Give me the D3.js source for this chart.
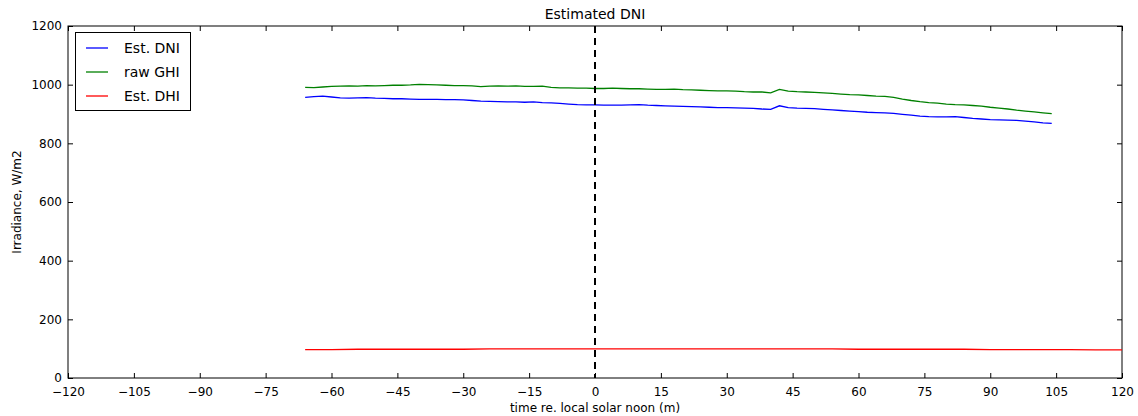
<!DOCTYPE html>
<html>
<head>
<meta charset="utf-8">
<script src="https://cdn.jsdelivr.net/npm/d3@7"></script>
<style>
  html, body { margin: 0; padding: 0; background: #fff; }
  svg { display: block; }
  text { font-family: "DejaVu Sans", sans-serif; fill: #000; }
</style>
</head>
<body>
<svg id="chart" width="1138" height="416"></svg>
<script>
// ---- data ----
const chartTitle = "Estimated DNI";
const xLabel = "time re. local solar noon (m)";
const yLabel = "Irradiance, W/m2";
const xTicks = [-120, -105, -90, -75, -60, -45, -30, -15, 0, 15, 30, 45, 60, 75, 90, 105, 120];
const yTicks = [0, 200, 400, 600, 800, 1000, 1200];
const seriesNames = ["Est. DNI", "raw GHI", "Est. DHI"];

const minutes = [-66,-64,-62,-60,-58,-56,-54,-52,-50,-48,-46,-44,-42,-40,-38,-36,-34,-32,-30,-28,-26,-24,-22,-20,-18,-16,-14,-12,-10,-8,-6,-4,-2,0,2,4,6,8,10,12,14,16,18,20,22,24,26,28,30,32,34,36,38,40,42,44,46,48,50,52,54,56,58,60,62,64,66,68,70,72,74,76,78,80,82,84,86,88,90,92,94,96,98,100,102,104];

const estDNI = [957,959,961,958,955,954,955,956,954,953,952,952,951,950,950,950,949,949,948,946,944,943,942,941,941,940,941,939,938,936,934,932,931,931,930,930,930,931,932,930,929,928,927,926,925,924,923,922,922,921,920,919,917,916,928,922,920,919,918,916,914,912,910,908,906,905,904,902,899,896,893,891,890,890,891,888,885,883,881,880,879,878,876,873,870,868];

const rawGHI = [991,990,992,994,995,996,995,997,996,997,998,998,999,1001,1000,999,998,997,997,996,993,995,996,995,996,994,994,995,991,989,989,988,988,987,987,988,987,986,986,985,984,984,985,983,982,981,980,979,979,978,976,975,975,972,984,978,976,975,974,972,970,968,966,965,963,961,960,957,951,946,942,939,937,934,932,931,929,927,923,920,917,913,910,907,904,901];

const dhiMinutes = [-66,-60,-54,-48,-42,-36,-30,-24,-18,-12,-6,0,6,12,18,24,30,36,42,48,54,60,66,72,78,84,90,96,102,108,114,120];
const estDHI = [97,97,98,98,98,98,98,99,99,99,99,99,99,99,99,99,99,99,99,99,99,98,98,98,98,98,97,97,97,97,96,96];

const colors = ["#0000ff", "#008000", "#ff0000"];

// ---- layout ----
const svg = d3.select("#chart");
const W = 1138, H = 416;
const m = { left: 68, right: 1138 - 1122, top: 26, bottom: 416 - 378 };
const x = d3.scaleLinear().domain([-120, 120]).range([m.left, W - m.right]);
const y = d3.scaleLinear().domain([0, 1200]).range([H - m.bottom, m.top]);

const fmt = d => (d < 0 ? "\u2212" + Math.abs(d) : String(d));

// clip
svg.append("defs").append("clipPath").attr("id", "clip")
  .append("rect").attr("x", m.left).attr("y", m.top)
  .attr("width", x(120) - x(-120)).attr("height", y(0) - y(1200));

// bottom axis
const gx = svg.append("g").attr("transform", `translate(0,${y(0)})`)
  .call(d3.axisBottom(x).tickValues(xTicks).tickFormat(fmt).tickSizeInner(-5).tickSizeOuter(0).tickPadding(9));
// top axis ticks
const gxt = svg.append("g").attr("transform", `translate(0,${y(1200)})`)
  .call(d3.axisTop(x).tickValues(xTicks).tickFormat("").tickSizeInner(-5).tickSizeOuter(0));
// left axis
const gy = svg.append("g").attr("transform", `translate(${x(-120)},0)`)
  .call(d3.axisLeft(y).tickValues(yTicks).tickFormat(fmt).tickSizeInner(-5).tickSizeOuter(0).tickPadding(6));
// right axis ticks
const gyr = svg.append("g").attr("transform", `translate(${x(120)},0)`)
  .call(d3.axisRight(y).tickValues(yTicks).tickFormat("").tickSizeInner(-5).tickSizeOuter(0));

[gx, gxt, gy, gyr].forEach(g => {
  g.select(".domain").remove();
  g.selectAll("line").attr("stroke", "#000").attr("stroke-width", 1);
  g.selectAll("text").style("font-size", "12px").style("font-family", "DejaVu Sans, sans-serif").attr("fill", "#000");
});

// frame
svg.append("rect").attr("x", x(-120)).attr("y", y(1200))
  .attr("width", x(120) - x(-120)).attr("height", y(0) - y(1200))
  .attr("fill", "none").attr("stroke", "#000").attr("stroke-width", 1);

// lines
const plot = svg.append("g").attr("clip-path", "url(#clip)");
const line = d3.line().x(d => x(d[0])).y(d => y(d[1]));

plot.append("path").datum(minutes.map((t, i) => [t, estDNI[i]]))
  .attr("d", line).attr("fill", "none").attr("stroke", colors[0]).attr("stroke-width", 1.3);
plot.append("path").datum(minutes.map((t, i) => [t, rawGHI[i]]))
  .attr("d", line).attr("fill", "none").attr("stroke", colors[1]).attr("stroke-width", 1.3);
plot.append("path").datum(dhiMinutes.map((t, i) => [t, estDHI[i]]))
  .attr("d", line).attr("fill", "none").attr("stroke", colors[2]).attr("stroke-width", 1.3);

// vertical dashed line at noon
plot.append("line").attr("x1", x(0)).attr("x2", x(0)).attr("y1", y(1200)).attr("y2", y(0))
  .attr("stroke", "#000").attr("stroke-width", 2).attr("stroke-dasharray", "7,5");

// title & labels
svg.append("text").attr("x", x(0)).attr("y", 19).attr("text-anchor", "middle")
  .style("font-size", "14px").text(chartTitle);
svg.append("text").attr("x", x(0)).attr("y", 412).attr("text-anchor", "middle")
  .style("font-size", "12px").text(xLabel);
svg.append("text").attr("transform", `translate(21,${(y(0) + y(1200)) / 2}) rotate(-90)`)
  .attr("text-anchor", "middle").style("font-size", "12px").text(yLabel);

// legend
const lg = svg.append("g");
lg.append("rect").attr("x", 75.5).attr("y", 32.5).attr("width", 115).attr("height", 78)
  .attr("fill", "#fff").attr("stroke", "#000").attr("stroke-width", 1);
seriesNames.forEach((name, i) => {
  const cy = 48 + i * 24;
  lg.append("line").attr("x1", 86).attr("x2", 108).attr("y1", cy).attr("y2", cy)
    .attr("stroke", colors[i]).attr("stroke-width", 1.3);
  lg.append("text").attr("x", 124).attr("y", cy + 5).style("font-size", "14px").text(name);
});
</script>
</body>
</html>
